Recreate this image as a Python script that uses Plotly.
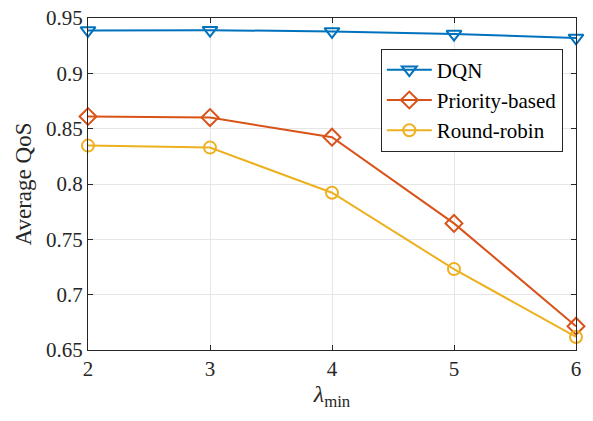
import plotly.graph_objects as go

x_vals = [2, 3, 4, 5, 6]
dqn = [0.9388, 0.9390, 0.9379, 0.9355, 0.9320]
priority = [0.8610, 0.8600, 0.8423, 0.7644, 0.6715]
round_robin = [0.8347, 0.8329, 0.7921, 0.7231, 0.6618]
y_ticks = [0.65, 0.7, 0.75, 0.8, 0.85, 0.9, 0.95]
y_tick_labels = ["0.65", "0.7", "0.75", "0.8", "0.85", "0.9", "0.95"]

names = ["DQN", "Priority-based", "Round-robin"]
colors = ["#0072BD", "#D95319", "#EDB120"]
symbols = ["triangle-down-open", "diamond-open", "circle-open"]
sizes = [13, 13, 12]

fig = go.Figure()
for name, ys, c, s, sz in zip(names, [dqn, priority, round_robin], colors, symbols, sizes):
    fig.add_trace(go.Scatter(
        x=x_vals, y=ys, mode="lines+markers", name=name,
        line=dict(color=c, width=2),
        marker=dict(symbol=s, size=sz, color=c, line=dict(color=c, width=2)),
        cliponaxis=False,
    ))

font = "'Times New Roman', 'Liberation Serif', Times, serif"
fig.update_layout(
    width=593, height=421,
    margin=dict(l=88, r=17, t=18, b=71, autoexpand=False),
    paper_bgcolor="white", plot_bgcolor="white",
    font=dict(family=font, size=21, color="#262626"),
    showlegend=True,
    legend=dict(
        x=0.973, y=0.908, xanchor="right", yanchor="top",
        bgcolor="white", bordercolor="#262626", borderwidth=1,
        font=dict(family=font, size=21, color="#000000"),
        tracegroupgap=0, itemwidth=45,
    ),
    xaxis=dict(
        range=[2, 6], tickvals=x_vals, ticktext=[str(v) for v in x_vals],
        showgrid=True, gridcolor="#e6e6e6", gridwidth=1,
        showline=True, linecolor="#262626", linewidth=1, mirror="ticks",
        ticks="inside", ticklen=5, tickcolor="#262626",
        zeroline=False, automargin=False,
        title=dict(text="<i>λ</i><sub>min</sub>", font=dict(family=font, size=24), standoff=3),
    ),
    yaxis=dict(
        range=[0.65, 0.95], tickvals=y_ticks, ticktext=y_tick_labels,
        showgrid=True, gridcolor="#e6e6e6", gridwidth=1,
        showline=True, linecolor="#262626", linewidth=1, mirror="ticks",
        ticks="inside", ticklen=5, tickcolor="#262626",
        zeroline=False, automargin=False,
        title=dict(text="Average QoS", font=dict(family=font, size=23), standoff=7),
    ),
)

fig.write_html(
    "out.html",
    config={"displayModeBar": False},
    post_script="document.body.style.margin='0';document.body.style.overflow='hidden';",
)
